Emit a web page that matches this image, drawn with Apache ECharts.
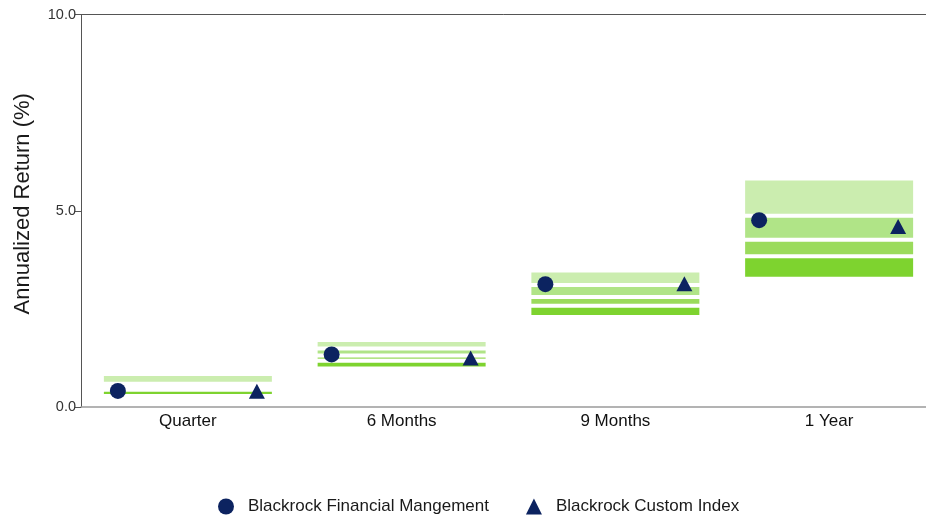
<!DOCTYPE html>
<html>
<head>
<meta charset="utf-8">
<script src="https://cdn.jsdelivr.net/npm/echarts@6/dist/echarts.min.js"></script>
<style>
  html, body { margin: 0; padding: 0; background: #fff; }
  #chart { width: 926px; height: 517px; }
</style>
</head>
<body>
<div id="chart"></div>
<script>
// Periods on the category axis
const categories = ['Quarter', '6 Months', '9 Months', '1 Year'];

// Peer-universe percentile breakpoints (annualized return, %)
const p95 = [0.84, 1.71, 3.48, 5.82];
const p75 = [0.59, 1.49, 3.11, 4.87];
const p50 = [0.50, 1.31, 2.80, 4.26];
const p25 = [0.44, 1.18, 2.58, 3.84];
const p5  = [0.28, 0.98, 2.29, 3.27];

// Portfolio and benchmark returns
const fundName = 'Blackrock Financial Mangement';
const indexName = 'Blackrock Custom Index';
const fundReturn  = [0.41, 1.34, 3.13, 4.76];
const indexReturn = [0.40, 1.25, 3.14, 4.60];

// Y axis range
const yMin = 0, yMax = 10, yStep = 5;

const bandColors = ['#7ed32f', '#9bdb5c', '#b0e487', '#cbedaf']; // 5-25, 25-50, 50-75, 75-95
const navy = '#0c2360';

const diff = (hi, lo) => hi.map((v, i) => +(v - lo[i]).toFixed(4));
const bands = [diff(p25, p5), diff(p50, p25), diff(p75, p50), diff(p95, p75)];

const bandSeries = bands.map((vals, k) => ({
  type: 'bar',
  stack: 'range',
  barWidth: 172,
  silent: true,
  data: vals,
  itemStyle: { color: bandColors[k], borderColor: '#ffffff', borderWidth: 2 }
}));

const chart = echarts.init(document.getElementById('chart'), null, { renderer: 'canvas' });
chart.setOption({
  animation: false,
  backgroundColor: '#ffffff',
  textStyle: { fontFamily: '"Liberation Sans", Arial, sans-serif' },
  grid: { left: 81, top: 14.5, width: 855, height: 392.5, outerBoundsMode: 'none', containLabel: false },
  legend: {
    left: 213, top: 493,
    itemWidth: 16, itemHeight: 16, itemGap: 37,
    textStyle: { fontSize: 17, color: '#1a1a1a', padding: [0, 0, 0, 9] },
    data: [
      { name: fundName, icon: 'circle' },
      { name: indexName, icon: 'triangle' }
    ]
  },
  xAxis: [{
    type: 'category',
    data: categories,
    axisLine: { lineStyle: { color: '#9a9a9a', width: 1.5 } },
    axisTick: { show: false },
    axisLabel: { fontSize: 17, color: '#111', margin: 6 }
  }, {
    type: 'category',
    data: categories,
    position: 'top',
    axisLine: { lineStyle: { color: '#555', width: 1 } },
    axisTick: { show: false },
    axisLabel: { show: false }
  }],
  yAxis: {
    type: 'value',
    min: yMin, max: yMax, interval: yStep,
    name: 'Annualized Return (%)',
    nameLocation: 'middle',
    nameGap: 47,
    nameTextStyle: { fontSize: 22, color: '#1a1a1a', padding: [0, 0, 0, 14] },
    axisLine: { show: true, lineStyle: { color: '#555' } },
    axisTick: { show: true, length: 6, lineStyle: { color: '#555' } },
    axisLabel: { fontSize: 14.5, color: '#333', margin: 5, formatter: v => v.toFixed(1) },
    splitLine: { show: false }
  },
  series: [
    {
      type: 'bar', stack: 'range', barWidth: 172, silent: true,
      data: p5,
      itemStyle: { color: 'rgba(0,0,0,0)', borderWidth: 0 }
    },
    ...bandSeries,
    {
      name: fundName, type: 'scatter',
      data: fundReturn,
      symbol: 'circle', symbolSize: 16, symbolOffset: [-70, 0],
      itemStyle: { color: navy, opacity: 1 }, z: 5
    },
    {
      name: indexName, type: 'scatter',
      data: indexReturn,
      symbol: 'triangle', symbolSize: [16, 15], symbolOffset: [69, 0],
      itemStyle: { color: navy, opacity: 1 }, z: 5
    }
  ]
});
</script>
</body>
</html>
